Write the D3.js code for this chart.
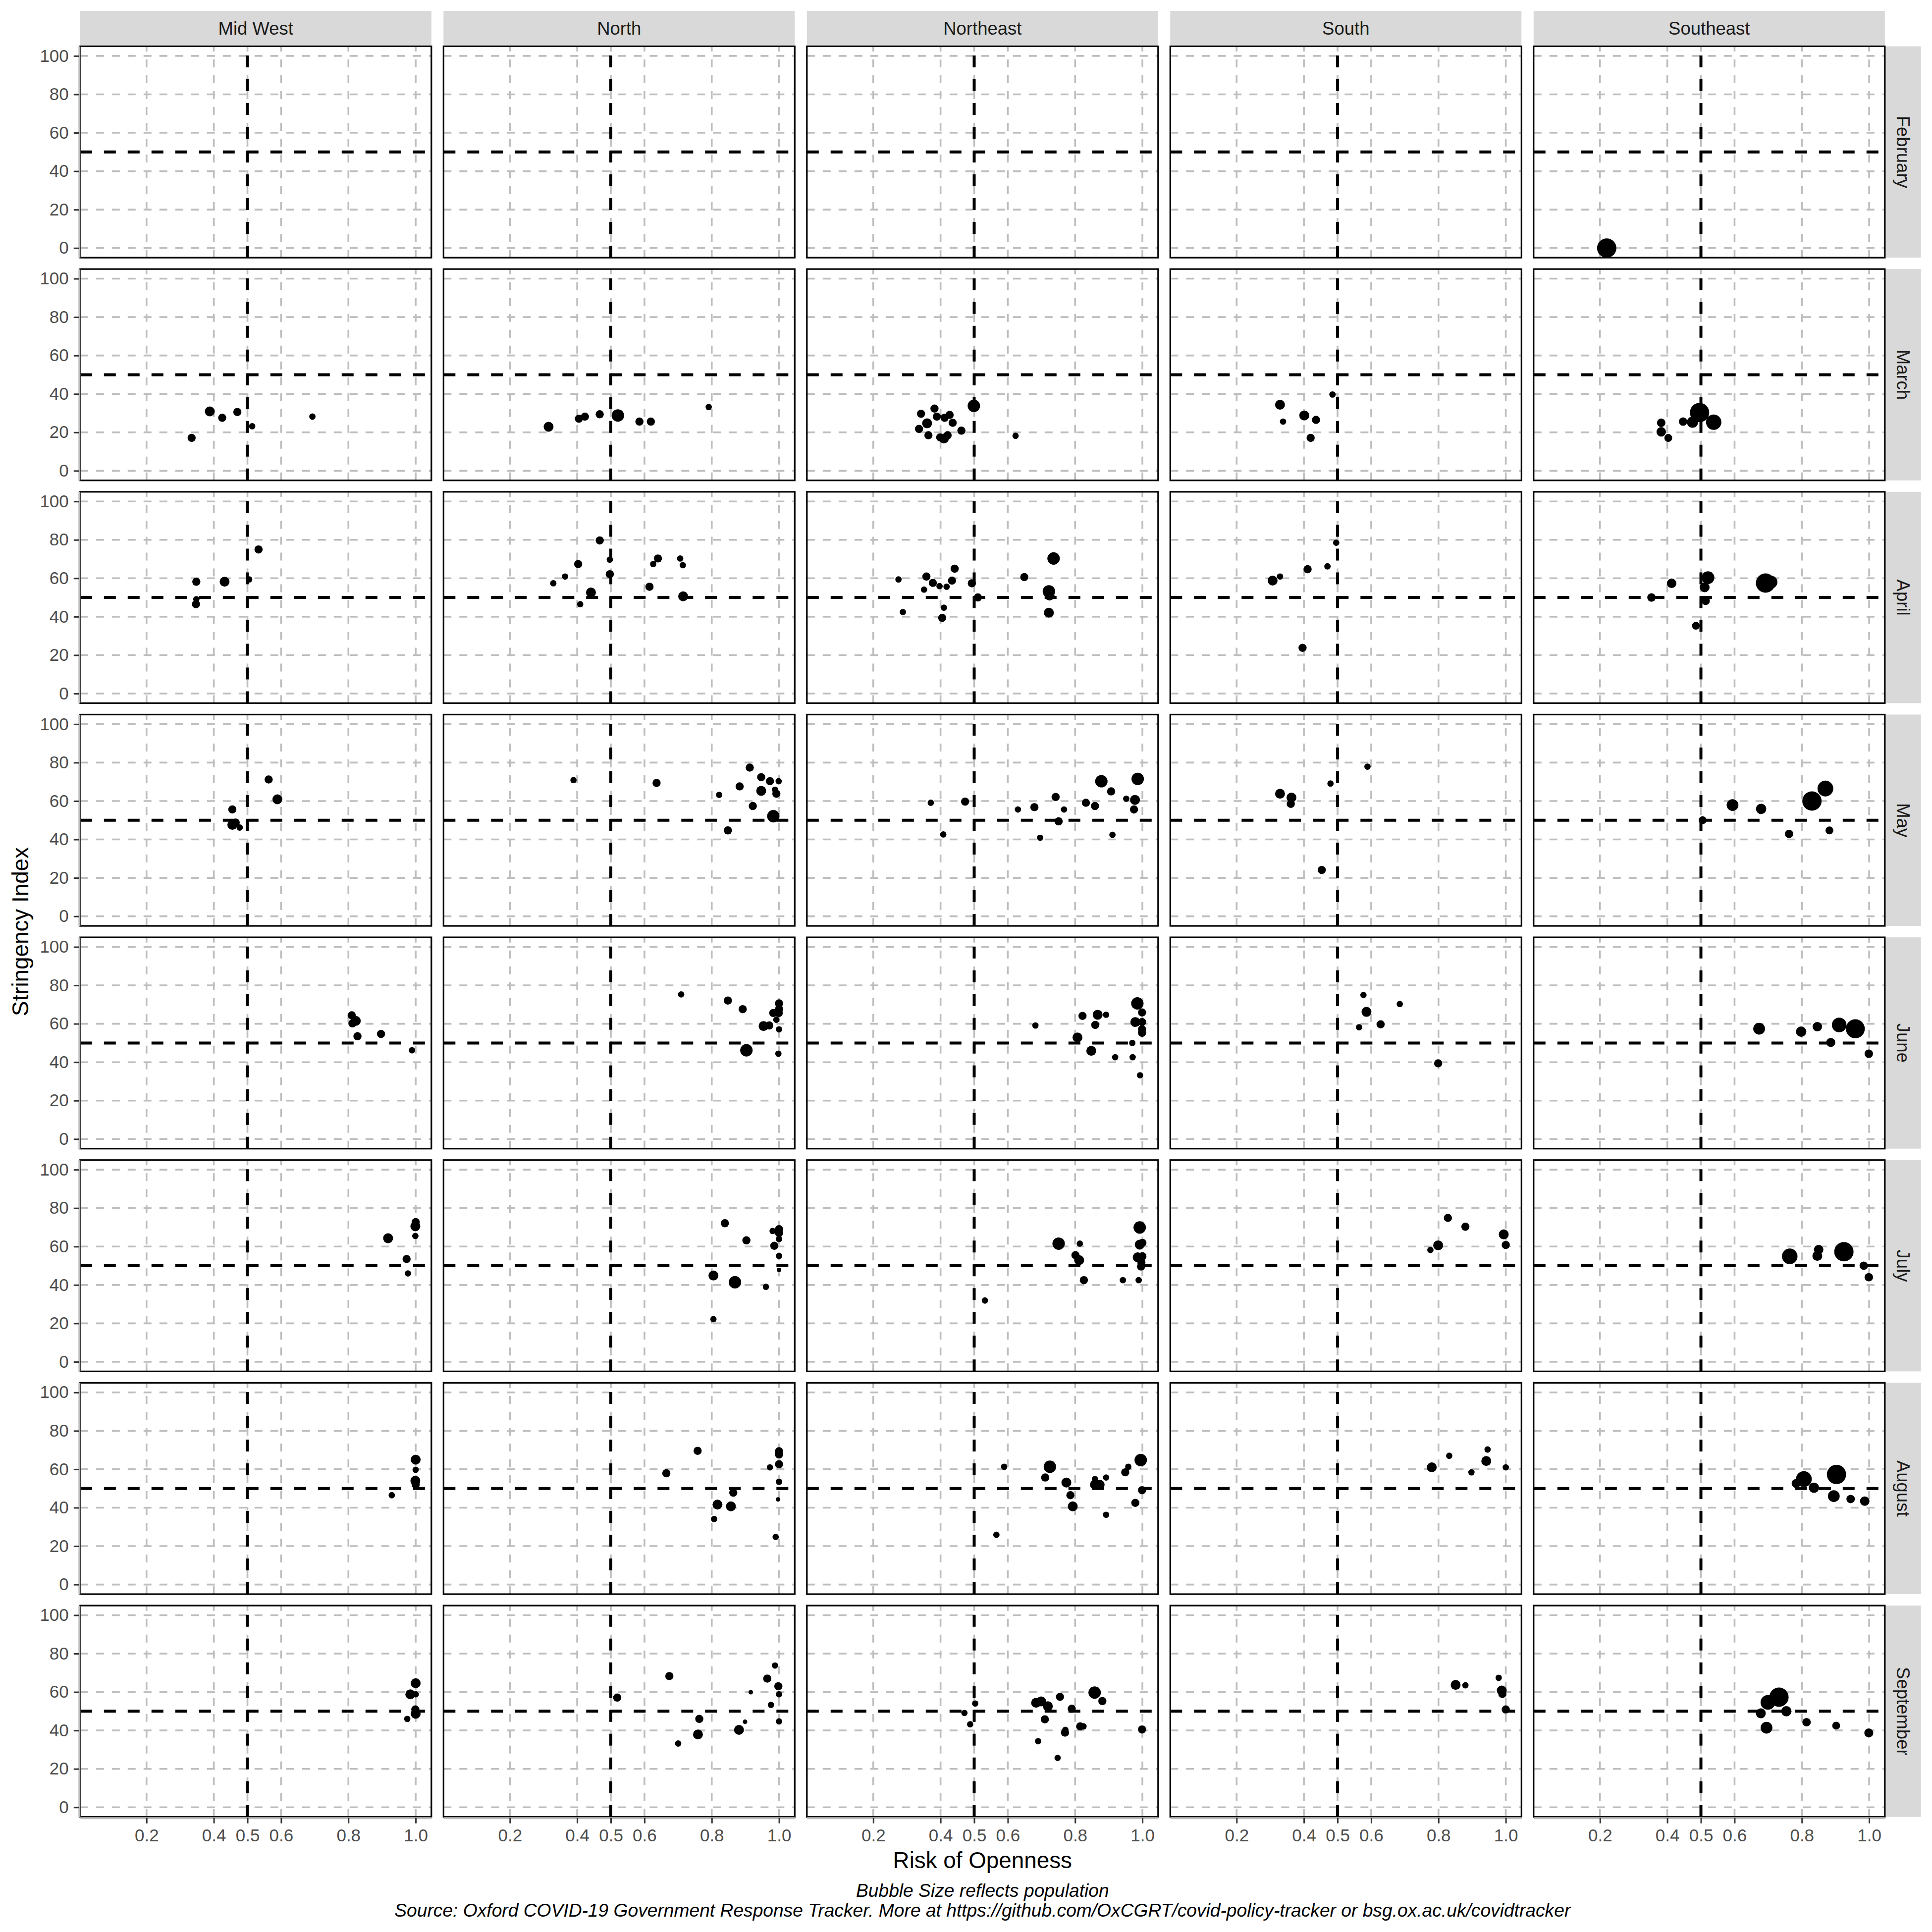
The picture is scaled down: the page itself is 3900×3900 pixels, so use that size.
<!DOCTYPE html>
<html><head><meta charset="utf-8">
<script src="https://cdn.jsdelivr.net/npm/d3@7"></script>
<style>body{margin:0;background:#fff}</style>
</head><body>
<script>
// ---------------- data ----------------
const regions = ["Mid West", "North", "Northeast", "South", "Southeast"];
const months = ["February", "March", "April", "May", "June", "July", "August", "September"];
const xTicks = [0.2, 0.4, 0.5, 0.6, 0.8, 1.0];
const yTicks = [0, 20, 40, 60, 80, 100];
const xRef = 0.5, yRef = 50;

// [month, risk of openness, stringency index, population (millions)]
const midWest = [
  ["Mar",0.334,17.1,4.5],["Mar",0.388,30.9,8],["Mar",0.425,27.6,4.5],["Mar",0.470,30.6,4.5],["Mar",0.514,23.2,2],["Mar",0.693,28.2,2],
  ["Apr",0.348,58.2,4.5],["Apr",0.432,58.2,8],["Apr",0.505,59.4,2],["Apr",0.533,75.0,4.5],["Apr",0.348,49.1,2],["Apr",0.347,46.5,4.5],
  ["May",0.455,55.6,4.5],["May",0.455,47.6,8],["May",0.465,48.8,4.5],["May",0.477,46.2,2],["May",0.563,71.2,4.5],["May",0.589,60.9,8],
  ["Jun",0.810,64.4,4.5],["Jun",0.812,60.2,4.5],["Jun",0.822,61.5,8],["Jun",0.827,53.5,4.5],["Jun",0.897,54.7,4.5],["Jun",0.989,46.2,2],
  ["Jul",0.918,64.3,8],["Jul",1.0,72.7,4.5],["Jul",0.999,70.5,8],["Jul",0.999,65.5,2],["Jul",0.973,53.5,4.5],["Jul",0.977,46.0,2],
  ["Aug",1.0,65.0,8],["Aug",1.0,59.7,2],["Aug",0.999,54.0,8],["Aug",1.0,52.0,4.5],["Aug",0.929,46.5,2],
  ["Sep",1.0,64.6,8],["Sep",0.984,58.8,8],["Sep",1.0,58.8,2],["Sep",0.999,50.9,4.5],["Sep",1.0,48.7,8],["Sep",0.975,46.0,2]
];
const north = [
  ["Mar",0.315,22.9,8],["Mar",0.405,27.1,4.5],["Mar",0.423,28.2,4.5],["Mar",0.467,29.4,4.5],["Mar",0.521,28.8,15],["Mar",0.585,25.6,4.5],["Mar",0.619,25.6,4.5],["Mar",0.791,33.2,2],
  ["Apr",0.329,57.4,2],["Apr",0.364,60.9,2],["Apr",0.403,67.4,4.5],["Apr",0.467,79.7,4.5],["Apr",0.497,69.7,2],["Apr",0.497,62.1,4.5],["Apr",0.441,52.6,8],["Apr",0.409,46.5,2],["Apr",0.615,55.6,4.5],["Apr",0.626,67.4,2],["Apr",0.640,70.3,4.5],["Apr",0.706,70.3,2],["Apr",0.714,66.8,2],["Apr",0.715,50.6,8],
  ["May",0.389,70.9,2],["May",0.636,69.4,4.5],["May",0.822,63.2,2],["May",0.848,44.7,4.5],["May",0.883,67.6,4.5],["May",0.913,77.4,4.5],["May",0.922,57.4,4.5],["May",0.947,72.4,4.5],["May",0.947,65.3,8],["May",0.973,70.3,4.5],["May",0.988,65.9,2],["May",0.992,63.8,4.5],["May",0.999,70.3,2],["May",0.983,52.1,15],
  ["Jun",0.709,75.3,2],["Jun",0.848,72.1,4.5],["Jun",0.892,67.6,4.5],["Jun",0.903,46.2,15],["Jun",0.954,58.8,8],["Jun",0.971,59.1,4.5],["Jun",0.983,65.6,4.5],["Jun",0.992,62.1,2],["Jun",1.0,70.6,4.5],["Jun",1.0,67.6,4.5],["Jun",0.999,65.6,4.5],["Jun",1.0,57.1,2],["Jun",0.998,44.4,2],
  ["Jul",0.839,72.1,4.5],["Jul",0.903,63.2,4.5],["Jul",0.805,44.9,8],["Jul",0.869,41.4,15],["Jul",0.805,22.2,2],["Jul",0.961,39.0,2],["Jul",0.981,68.1,2],["Jul",1.0,69.0,4.5],["Jul",1.0,67.0,4.5],["Jul",1.0,63.9,2],["Jul",0.986,60.4,4.5],["Jul",1.0,55.1,2],["Jul",1.0,47.8,0.7],
  ["Aug",0.758,69.6,4.5],["Aug",0.665,57.9,4.5],["Aug",0.864,47.8,4.5],["Aug",0.817,41.6,8],["Aug",0.857,40.7,8],["Aug",0.807,34.1,2],["Aug",0.973,61.0,2],["Aug",1.0,69.4,4.5],["Aug",1.0,67.7,4.5],["Aug",1.0,62.6,4.5],["Aug",1.0,53.5,2],["Aug",0.997,44.3,0.7],["Aug",0.990,24.8,2],
  ["Sep",0.519,57.1,4.5],["Sep",0.674,68.3,4.5],["Sep",0.700,33.2,2],["Sep",0.763,46.0,4.5],["Sep",0.759,37.9,8],["Sep",0.881,40.3,8],["Sep",0.899,44.5,0.7],["Sep",0.916,59.9,0.7],["Sep",0.965,67.0,4.5],["Sep",0.988,73.8,2],["Sep",0.998,63.0,4.5],["Sep",1.0,58.8,2],["Sep",0.976,53.3,2],["Sep",1.0,44.7,2]
];
const northeast = [
  ["Mar",0.342,29.7,4.5],["Mar",0.382,32.4,4.5],["Mar",0.389,28.2,4.5],["Mar",0.336,21.8,4.5],["Mar",0.360,24.7,8],["Mar",0.364,18.5,4.5],["Mar",0.399,17.4,4.5],["Mar",0.410,16.8,8],["Mar",0.421,18.5,4.5],["Mar",0.412,27.6,4.5],["Mar",0.427,29.1,4.5],["Mar",0.436,25.0,4.5],["Mar",0.462,20.9,4.5],["Mar",0.499,33.8,15],["Mar",0.623,18.2,2],
  ["Apr",0.275,59.4,2],["Apr",0.288,42.4,2],["Apr",0.351,54.1,2],["Apr",0.358,60.9,4.5],["Apr",0.377,57.6,4.5],["Apr",0.397,55.9,2],["Apr",0.418,55.6,2],["Apr",0.410,44.7,2],["Apr",0.405,39.4,4.5],["Apr",0.434,58.8,4.5],["Apr",0.442,65.0,4.5],["Apr",0.493,57.4,4.5],["Apr",0.511,50.0,4.5],["Apr",0.649,60.6,4.5],["Apr",0.736,70.3,15],["Apr",0.722,53.2,15],["Apr",0.724,51.0,8],["Apr",0.722,42.1,8],
  ["May",0.371,59.1,2],["May",0.473,59.7,4.5],["May",0.408,42.6,2],["May",0.630,55.6,2],["May",0.679,56.8,4.5],["May",0.696,40.9,2],["May",0.742,62.1,4.5],["May",0.767,55.6,2],["May",0.751,49.4,4.5],["May",0.832,59.1,4.5],["May",0.859,57.4,4.5],["May",0.878,70.3,15],["May",0.907,65.0,4.5],["May",0.911,42.4,2],["May",0.952,61.2,2],["May",0.978,60.6,8],["May",0.975,55.6,4.5],["May",0.986,71.5,15],
  ["Jun",0.682,59.1,2],["Jun",0.807,52.9,8],["Jun",0.822,64.1,4.5],["Jun",0.848,45.9,8],["Jun",0.860,59.4,4.5],["Jun",0.867,64.7,8],["Jun",0.892,64.7,2],["Jun",0.919,42.6,2],["Jun",0.970,50.0,2],["Jun",0.971,42.6,2],["Jun",0.985,70.6,15],["Jun",0.999,65.9,4.5],["Jun",0.979,60.9,8],["Jun",0.999,60.9,4.5],["Jun",0.999,57.1,4.5],["Jun",0.999,55.3,4.5],["Jun",0.993,33.2,2],
  ["Jul",0.532,31.9,2],["Jul",0.751,61.5,15],["Jul",0.814,61.5,2],["Jul",0.801,55.5,4.5],["Jul",0.812,52.9,8],["Jul",0.826,42.5,4.5],["Jul",0.942,42.5,2],["Jul",0.989,42.5,2],["Jul",0.992,69.9,15],["Jul",0.992,61.0,8],["Jul",1.0,61.9,4.5],["Jul",0.986,54.4,8],["Jul",1.0,54.9,4.5],["Jul",0.997,51.8,4.5],["Jul",0.996,49.6,4.5],
  ["Aug",0.566,25.9,2],["Aug",0.589,61.3,2],["Aug",0.725,61.3,15],["Aug",0.711,55.7,4.5],["Aug",0.774,53.1,8],["Aug",0.786,46.5,4.5],["Aug",0.793,40.7,8],["Aug",0.859,52.0,8],["Aug",0.873,52.0,8],["Aug",0.859,54.9,2],["Aug",0.892,55.7,2],["Aug",0.892,36.3,2],["Aug",0.949,58.4,4.5],["Aug",0.958,61.3,2],["Aug",0.995,64.8,15],["Aug",0.979,42.5,4.5],["Aug",0.999,49.1,4.5],
  ["Sep",0.471,49.1,2],["Sep",0.503,54.0,2],["Sep",0.488,43.2,2],["Sep",0.684,54.4,8],["Sep",0.699,55.1,8],["Sep",0.719,52.6,8],["Sep",0.710,45.8,4.5],["Sep",0.690,34.4,2],["Sep",0.755,57.5,4.5],["Sep",0.790,51.3,4.5],["Sep",0.771,40.3,2],["Sep",0.770,38.9,4.5],["Sep",0.748,25.7,2],["Sep",0.815,42.1,4.5],["Sep",0.825,42.1,2],["Sep",0.858,59.7,15],["Sep",0.881,55.3,4.5],["Sep",0.999,40.5,4.5]
];
const south = [
  ["Mar",0.329,34.4,8],["Mar",0.338,25.6,2],["Mar",0.401,28.8,8],["Mar",0.436,26.5,4.5],["Mar",0.420,17.1,4.5],["Mar",0.485,39.7,2],
  ["Apr",0.307,58.8,8],["Apr",0.329,60.9,2],["Apr",0.411,64.7,4.5],["Apr",0.470,66.2,2],["Apr",0.496,78.5,2],["Apr",0.396,23.8,4.5],
  ["May",0.329,63.8,8],["May",0.363,61.8,8],["May",0.361,58.5,4.5],["May",0.479,69.1,2],["May",0.589,77.9,2],["May",0.453,24.1,4.5],
  ["Jun",0.577,75.0,2],["Jun",0.586,66.2,8],["Jun",0.564,58.2,2],["Jun",0.628,59.7,4.5],["Jun",0.685,70.3,2],["Jun",0.799,39.4,4.5],
  ["Jul",0.828,74.9,4.5],["Jul",0.880,70.3,4.5],["Jul",0.994,66.3,8],["Jul",1.0,60.8,4.5],["Jul",0.776,58.2,2],["Jul",0.799,60.6,8],
  ["Aug",0.780,61.0,8],["Aug",0.832,67.0,2],["Aug",0.898,58.4,2],["Aug",0.942,64.3,8],["Aug",0.946,70.3,2],["Aug",1.0,61.0,2],
  ["Sep",0.851,63.7,8],["Sep",0.880,63.5,2],["Sep",0.979,67.4,2],["Sep",0.988,60.8,8],["Sep",0.990,59.0,4.5],["Sep",1.0,50.9,4.5]
];
const southeast = [
  ["Feb",0.22,0,46],
  ["Mar",0.382,25.0,5],["Mar",0.382,20.3,7],["Mar",0.403,17.1,4],["Mar",0.447,25.6,5],["Mar",0.475,25.3,11],["Mar",0.496,30.3,46],["Mar",0.538,25.3,26],
  ["Apr",0.353,50.0,5],["Apr",0.413,57.4,7],["Apr",0.485,35.3,4],["Apr",0.521,60.3,16],["Apr",0.511,55.3,8],["Apr",0.514,48.2,5],["Apr",0.692,57.5,46],["Apr",0.708,58.0,17],
  ["May",0.505,50.0,4],["May",0.594,57.9,13],["May",0.679,55.9,9],["May",0.762,42.9,5],["May",0.830,60.0,46],["May",0.870,66.5,28],["May",0.882,44.7,4],
  ["Jun",0.673,57.4,13],["Jun",0.798,55.9,9],["Jun",0.846,58.5,7],["Jun",0.886,50.3,6],["Jun",0.911,59.4,23],["Jun",0.959,57.4,44],["Jun",0.999,44.4,5],
  ["Jul",0.764,54.9,27],["Jul",0.846,55.1,8],["Jul",0.850,58.4,7],["Jul",0.925,57.3,46],["Jul",0.984,50.0,5],["Jul",0.999,44.0,5],
  ["Aug",0.783,52.6,6],["Aug",0.806,54.9,28],["Aug",0.836,50.4,9],["Aug",0.903,57.3,46],["Aug",0.895,46.0,13],["Aug",0.945,44.5,5],["Aug",0.987,43.4,7],
  ["Sep",0.678,48.9,8],["Sep",0.699,54.6,23],["Sep",0.732,57.3,46],["Sep",0.754,50.0,9],["Sep",0.695,41.4,13],["Sep",0.814,44.3,5],["Sep",0.902,42.5,4],["Sep",0.999,38.7,6]
];
const regionData = {"Mid West": midWest, "North": north, "Northeast": northeast, "South": south, "Southeast": southeast};

const yTitle = "Stringency Index";
const xTitle = "Risk of Openness";
const captionLines = ["Bubble Size reflects population",
  "Source: Oxford COVID-19 Government Response Tracker. More at https://github.com/OxCGRT/covid-policy-tracker or bsg.ox.ac.uk/covidtracker"];

// ---------------- layout ----------------
const FONT = "'Liberation Sans', Arial, sans-serif";
const PW = 709, PH = 426.6;
const L0 = 161.8, SX = 733.5;
const T0 = 93.5, SY = 449.65;
const STRIP_TOP = 22, STRIP_W = 73;

const x = d3.scaleLinear().domain([0.0027, 1.0467]).range([0, PW]);
const y = d3.scaleLinear().domain([-5, 105]).range([PH, 0]);
const popMin = 0.5, popMax = 46;
const rLin = d3.scaleLinear().domain([0, Math.sqrt(popMax - popMin)]).range([3.5, 19.5]);
const r = p => rLin(Math.sqrt(Math.max(0, p - popMin)));

const svg = d3.select("body").append("svg")
  .attr("width", 3900).attr("height", 3900)
  .style("font-family", FONT);
svg.append("rect").attr("width", 3900).attr("height", 3900).attr("fill", "#fff");

const defs = svg.append("defs");
defs.append("clipPath").attr("id", "pclip")
  .append("rect").attr("width", PW).attr("height", PH);

const nRows = months.length, nCols = regions.length;

// top strips
regions.forEach((reg, c) => {
  const L = L0 + c * SX;
  svg.append("rect").attr("x", L).attr("y", STRIP_TOP).attr("width", PW).attr("height", T0 - STRIP_TOP)
    .attr("fill", "#D9D9D9");
  svg.append("text").attr("x", L + PW / 2).attr("y", (STRIP_TOP + T0) / 2)
    .attr("text-anchor", "middle").attr("dominant-baseline", "central")
    .attr("font-size", 36.5).attr("fill", "#1A1A1A").text(reg);
});

// right strips
months.forEach((m, rI) => {
  const T = T0 + rI * SY;
  const Lr = L0 + (nCols - 1) * SX + PW;
  svg.append("rect").attr("x", Lr).attr("y", T).attr("width", STRIP_W).attr("height", PH)
    .attr("fill", "#D9D9D9");
  svg.append("text")
    .attr("transform", `translate(${Lr + STRIP_W / 2},${T + PH / 2}) rotate(90)`)
    .attr("text-anchor", "middle").attr("dominant-baseline", "central")
    .attr("font-size", 36.5).attr("fill", "#1A1A1A").text(m);
});

months.forEach((m, rI) => {
  regions.forEach((reg, c) => {
    const L = L0 + c * SX, T = T0 + rI * SY;
    const g = svg.append("g").attr("transform", `translate(${L},${T})`);
    g.append("rect").attr("width", PW).attr("height", PH).attr("fill", "#fff");
    const inner = g.append("g").attr("clip-path", "url(#pclip)");
    // grid
    inner.selectAll(".gy").data(yTicks).join("line")
      .attr("x1", 0).attr("x2", PW).attr("y1", d => y(d)).attr("y2", d => y(d))
      .attr("stroke", "#BEBEBE").attr("stroke-width", 3.6).attr("stroke-dasharray", "16,16");
    inner.selectAll(".gx").data(xTicks).join("line")
      .attr("x1", d => x(d)).attr("x2", d => x(d)).attr("y1", PH).attr("y2", 0)
      .attr("stroke", "#BEBEBE").attr("stroke-width", 3.6).attr("stroke-dasharray", "16,16");
    // reference lines
    inner.append("line").attr("x1", 0).attr("x2", PW).attr("y1", y(yRef)).attr("y2", y(yRef))
      .attr("stroke", "#000").attr("stroke-width", 6).attr("stroke-dasharray", "24,24");
    inner.append("line").attr("x1", x(xRef)).attr("x2", x(xRef)).attr("y1", PH).attr("y2", 0)
      .attr("stroke", "#000").attr("stroke-width", 6).attr("stroke-dasharray", "24,24");
    // points
    const pts = regionData[reg].filter(d => m.startsWith(d[0]));
    inner.selectAll("circle").data(pts).join("circle")
      .attr("cx", d => x(d[1])).attr("cy", d => y(d[2])).attr("r", d => r(d[3]))
      .attr("fill", "#000");
    // border
    g.append("rect").attr("width", PW).attr("height", PH)
      .attr("fill", "none").attr("stroke", "#000").attr("stroke-width", 3.2);

    // axes
    if (c === 0) {
      const ax = svg.append("g").attr("transform", `translate(${L - 2},${T})`)
        .call(d3.axisLeft(y).tickValues(yTicks).tickSize(11).tickSizeOuter(0).tickPadding(10));
      ax.select(".domain").attr("stroke", "#BEBEBE").attr("stroke-width", 4);
      ax.selectAll(".tick line").attr("stroke", "#333333").attr("stroke-width", 3);
      ax.selectAll(".tick text").attr("font-size", 35).attr("fill", "#4D4D4D").attr("font-family", FONT);
    }
    if (rI === nRows - 1) {
      const ax = svg.append("g").attr("transform", `translate(${L},${T + PH + 2})`)
        .call(d3.axisBottom(x).tickValues(xTicks).tickFormat(d3.format(".1f")).tickSize(11).tickSizeOuter(0).tickPadding(12));
      ax.select(".domain").attr("stroke", "#BEBEBE").attr("stroke-width", 4);
      ax.selectAll(".tick line").attr("stroke", "#333333").attr("stroke-width", 3);
      ax.selectAll(".tick text").attr("font-size", 35).attr("fill", "#4D4D4D").attr("font-family", FONT);
    }
  });
});

// axis titles
const panelsLeft = L0, panelsRight = L0 + (nCols - 1) * SX + PW;
const panelsTop = T0, panelsBottom = T0 + (nRows - 1) * SY + PH;
svg.append("text")
  .attr("transform", `translate(${41},${(panelsTop + panelsBottom) / 2}) rotate(-90)`)
  .attr("text-anchor", "middle").attr("dominant-baseline", "central")
  .attr("font-size", 45.8).attr("fill", "#000").text(yTitle);
svg.append("text").attr("x", (panelsLeft + panelsRight) / 2).attr("y", 3771)
  .attr("text-anchor", "middle").attr("font-size", 45.8).attr("fill", "#000").text(xTitle);
captionLines.forEach((t, i) => {
  svg.append("text").attr("x", (panelsLeft + panelsRight) / 2).attr("y", 3829 + i * 40)
    .attr("text-anchor", "middle").attr("font-size", 37.2).attr("font-style", "italic")
    .attr("fill", "#000").text(t);
});
</script>
</body></html>
